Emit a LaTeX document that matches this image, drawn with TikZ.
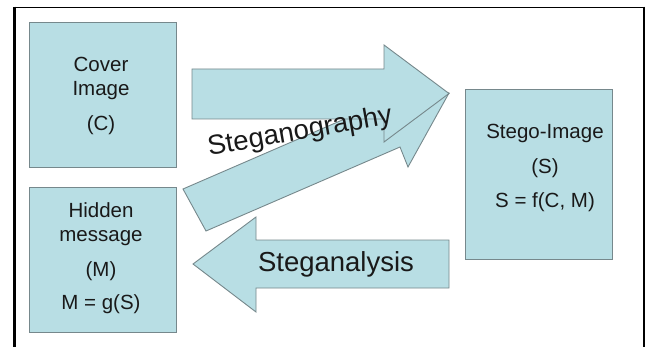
\documentclass[tikz,border=0pt]{standalone}
\usepackage{fontspec}
\setmainfont{Liberation Sans}
\definecolor{boxfill}{RGB}{184,222,228}
\definecolor{boxline}{RGB}{118,136,140}
\definecolor{ink}{RGB}{25,25,25}
\begin{document}
\begin{tikzpicture}[x=1pt,y=-1pt,
  blk/.style={fill=boxfill,draw=boxline,line width=0.9pt,line join=miter},
  box/.style={blk,rectangle,inner sep=0pt,anchor=north west},
  lbl/.style={font=\fontsize{20.5}{24}\selectfont,align=center,text=ink},
  big/.style={font=\fontsize{27.5}{30}\selectfont,text=ink}]
\useasboundingbox (0,0) rectangle (647,347);
\fill[white] (0,0) rectangle (647,347);
% frame
\draw[line width=1.3pt] (13.2,7.3) -- (645.2,7.3);
\draw[line width=2.6pt] (14.6,6.7) -- (14.6,347);
\draw[line width=2.4pt] (644,6.7) -- (644,347);
% boxes
\node[box,minimum width=147pt,minimum height=145pt] (cover) at (29,22) {};
\node[box,minimum width=147pt,minimum height=145pt] (hidden) at (29,187) {};
\node[box,minimum width=147pt,minimum height=170pt] (stego) at (465,89) {};
% diagonal arrow (Steganography, lower)
\coordinate (dtailA) at (183,189);
\coordinate (dtailB) at (206,231);
\coordinate (dtip) at (449,93);
\draw[blk] (dtailA) -- (381,103.2) -- (372.5,83.5) -- (dtip) -- (408,167) -- (400,147) -- (dtailB) -- cycle;
% top arrow
\coordinate (ttip) at (449,93.5);
\draw[blk] (192,69) -- (384,69) -- (384,45) -- (ttip) -- (384,142) -- (384,119) -- (192,119) -- cycle;
% bottom arrow (Steganalysis)
\coordinate (btip) at (193,264);
\draw[blk] (449,240) -- (256,240) -- (256,217) -- (btip) -- (256,312) -- (256,288) -- (449,288) -- cycle;
% texts
\node[lbl] (covertext) at (101,95.5) {Cover\\Image\\[11pt](C)};
\node[lbl] (hiddentext) at (101,258) {Hidden\\message\\[11pt](M)\\[9pt]M = g(S)};
\node[lbl] (stegotext) at (545,167.5) {Stego-Image\\[11pt](S)\\[10pt]S = f(C, M)};
\node[big,rotate=10] (steganography) at (300,132.5) {Steganography};
\node[big] (steganalysis) at (336,264) {Steganalysis};
\end{tikzpicture}
\end{document}
